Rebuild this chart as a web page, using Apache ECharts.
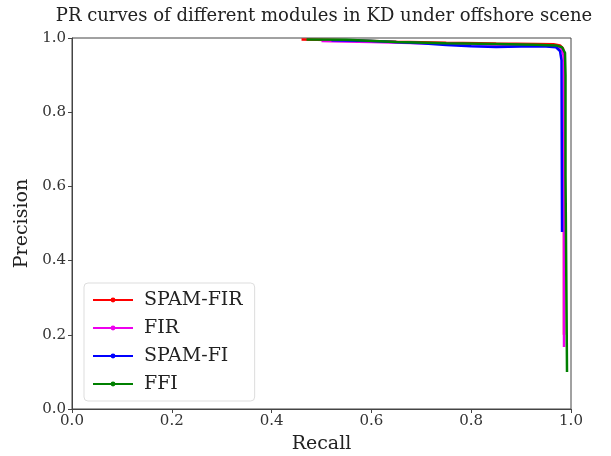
<!DOCTYPE html>
<html>
<head>
<meta charset="utf-8">
<script src="https://cdn.jsdelivr.net/npm/echarts@6/dist/echarts.min.js"></script>
<style>
  html, body { margin: 0; padding: 0; background: #fff; }
  #main { width: 611px; height: 456px; }
</style>
</head>
<body>
<div id="main"></div>
<script>
// recall / precision per module
const recallSpamFir = [0.46, 0.55, 0.65, 0.75, 0.85, 0.93, 0.965, 0.978, 0.984, 0.986, 0.986];
const precSpamFir   = [0.996, 0.994, 0.990, 0.987, 0.985, 0.984, 0.983, 0.980, 0.972, 0.950, 0.20];

const recallFir = [0.5, 0.52, 0.6, 0.7, 0.8, 0.9, 0.95, 0.97, 0.98, 0.985, 0.986, 0.986];
const precFir   = [0.992, 0.991, 0.989, 0.986, 0.983, 0.981, 0.980, 0.978, 0.972, 0.955, 0.93, 0.167];

const recallSpamFi = [0.52, 0.6, 0.7, 0.75, 0.8, 0.85, 0.9, 0.95, 0.97, 0.978, 0.981, 0.982];
const precSpamFi   = [0.994, 0.992, 0.986, 0.981, 0.978, 0.976, 0.977, 0.977, 0.975, 0.965, 0.94, 0.477];

const recallFfi = [0.47, 0.55, 0.65, 0.75, 0.85, 0.93, 0.97, 0.982, 0.988, 0.989, 0.989, 0.992, 0.992];
const precFfi   = [0.996, 0.995, 0.989, 0.986, 0.984, 0.982, 0.980, 0.975, 0.960, 0.90, 0.63, 0.63, 0.10];

const names = ["SPAM-FIR", "FIR", "SPAM-FI", "FFI"];
const colors = ["#ff0000", "#ee00ee", "#0000ff", "#008000"];

const pair = (xs, ys) => xs.map((x, i) => [x, ys[i]]);
const curves = [
  pair(recallSpamFir, precSpamFir),
  pair(recallFir, precFir),
  pair(recallSpamFi, precSpamFi),
  pair(recallFfi, precFfi),
];

const font = "DejaVu Serif";
const axisText = { color: "#333", fontFamily: font, fontSize: 15 };

const chart = echarts.init(document.getElementById("main"));
chart.setOption({
  animation: false,
  title: {
    text: "PR curves of different modules in KD under offshore scene",
    left: 319,
    textAlign: "center",
    top: 2,
    textStyle: { fontFamily: font, fontSize: 18, fontWeight: "normal", color: "#222" },
  },
  grid: {
    left: 72,
    right: 40,
    top: 38,
    bottom: 47,
    outerBoundsMode: "none",
    show: true,
    borderColor: "#444",
    borderWidth: 1,
  },
  legend: {
    orient: "vertical",
    left: 84,
    top: 283,
    itemWidth: 40,
    itemHeight: 6,
    itemGap: 8,
    padding: [7, 12, 7, 8],
    borderColor: "#ddd",
    borderWidth: 1,
    borderRadius: 4,
    backgroundColor: "rgba(255,255,255,0.8)",
    textStyle: { fontFamily: font, fontSize: 19, lineHeight: 20, color: "#222", padding: [0, 0, 0, 6] },
    data: names,
  },
  xAxis: {
    type: "value",
    min: 0,
    max: 1,
    interval: 0.2,
    name: "Recall",
    nameLocation: "middle",
    nameGap: 26,
    nameTextStyle: { fontFamily: font, fontSize: 19, color: "#222" },
    axisLine: { show: true, lineStyle: { color: "#444" } },
    axisTick: { show: true, length: 4, lineStyle: { color: "#444" } },
    axisLabel: { ...axisText, formatter: v => v.toFixed(1), margin: 5 },
    splitLine: { show: false },
  },
  yAxis: {
    type: "value",
    min: 0,
    max: 1,
    interval: 0.2,
    name: "Precision",
    nameLocation: "middle",
    nameGap: 39,
    nameTextStyle: { fontFamily: font, fontSize: 19, color: "#222" },
    axisLine: { show: true, lineStyle: { color: "#444" } },
    axisTick: { show: true, length: 4, lineStyle: { color: "#444" } },
    axisLabel: { ...axisText, formatter: v => v.toFixed(1), margin: 6 },
    splitLine: { show: false },
  },
  series: names.map((n, i) => ({
    name: n,
    type: "line",
    data: curves[i],
    symbol: "circle",
    symbolSize: 2,
    showSymbol: false,
    color: colors[i],
    lineStyle: { width: 2.5, color: colors[i] },
    z: 2 + i,
  })),
});
</script>
</body>
</html>
